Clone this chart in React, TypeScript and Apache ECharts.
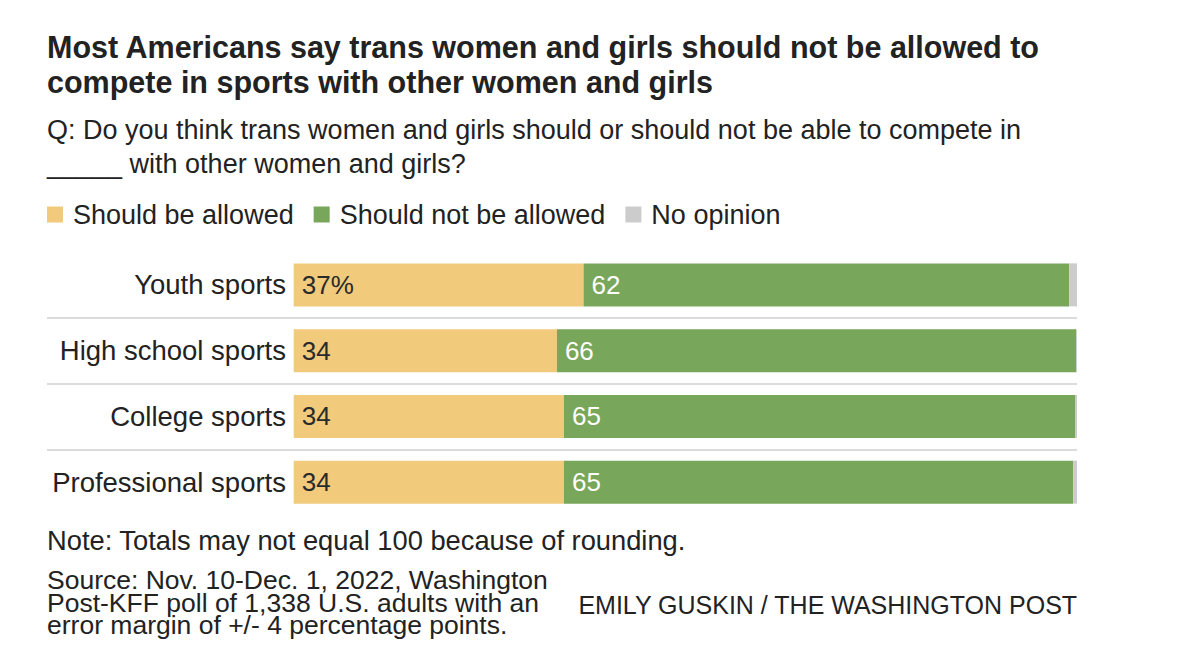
import React, { useEffect, useRef } from "react";
import * as echarts from "echarts";

const categories = ["Youth sports", "High school sports", "College sports", "Professional sports"];
const allowed = [37, 33.6, 34.5, 34.5];
const notAllowed = [62, 66.3, 65.3, 65.0];
const noOpinion = [1, 0.1, 0.2, 0.5];
const allowedLabels = ["37%", "34", "34", "34"];
const notAllowedLabels = ["62", "66", "65", "65"];
const seriesNames = ["Should be allowed", "Should not be allowed", "No opinion"];

const FONT = '"Liberation Sans", Arial, sans-serif';
const TEXT = "#222222";

export default function App() {
  const ref = useRef<HTMLDivElement>(null);
  useEffect(() => {
    if (!ref.current) return;
    const chart = echarts.init(ref.current, null, { renderer: "svg" });
    chart.setOption({
      animation: false,
      backgroundColor: "#ffffff",
      title: [
        {
          text: "Most Americans say trans women and girls should not be allowed to\ncompete in sports with other women and girls",
          left: 47,
          top: 29,
          padding: 0,
          textStyle: { fontFamily: FONT, fontSize: 30.5, fontWeight: "bold", color: TEXT, lineHeight: 35.5 },
        },
        {
          text: "Q: Do you think trans women and girls should or should not be able to compete in\n_____ with other women and girls?",
          left: 47,
          top: 113,
          padding: 0,
          textStyle: { fontFamily: FONT, fontSize: 27, fontWeight: "normal", color: TEXT, lineHeight: 34 },
        },
        {
          text: "Note: Totals may not equal 100 because of rounding.",
          left: 47,
          top: 525,
          padding: 0,
          textStyle: { fontFamily: FONT, fontSize: 27.3, fontWeight: "normal", color: TEXT, lineHeight: 30 },
        },
        {
          text: "Source: Nov. 10-Dec. 1, 2022, Washington\nPost-KFF poll of 1,338 U.S. adults with an\nerror margin of +/- 4 percentage points.",
          left: 47,
          top: 569,
          padding: 0,
          textStyle: { fontFamily: FONT, fontSize: 26.5, fontWeight: "normal", color: TEXT, lineHeight: 22.5 },
        },
        {
          text: "EMILY GUSKIN / THE WASHINGTON POST",
          right: 122,
          top: 592,
          padding: 0,
          textStyle: { fontFamily: FONT, fontSize: 25, fontWeight: "normal", color: TEXT, lineHeight: 25 },
        },
      ],
      legend: {
        data: seriesNames,
        left: 47,
        top: 201,
        padding: 0,
        icon: "rect",
        itemWidth: 16,
        itemHeight: 16,
        itemGap: 20,
        selectedMode: false,
        textStyle: { fontFamily: FONT, fontSize: 27, color: TEXT, padding: [0, 0, 0, 5] },
      },
      grid: { left: 47, right: 123, top: 252, height: 263, containLabel: false },
      xAxis: {
        type: "value",
        min: -31.5,
        max: 100,
        show: false,
      },
      yAxis: {
        type: "category",
        data: categories,
        inverse: true,
        axisLine: { show: false },
        axisTick: { show: false },
        axisLabel: {
          inside: true,
          margin: 239,
          align: "right",
          fontFamily: FONT,
          fontSize: 27.5,
          color: TEXT,
        },
        splitLine: {
          show: true,
          showMinLine: false,
          showMaxLine: false,
          lineStyle: { color: "#dcdcdc", width: 2 },
        },
      },
      series: [
        {
          name: seriesNames[0],
          type: "bar",
          stack: "total",
          barWidth: 43,
          data: allowed,
          itemStyle: { color: "#f1ca7c" },
          label: {
            show: true,
            position: "insideLeft",
            distance: 8,
            fontFamily: FONT,
            fontSize: 26,
            color: "#2a2a2a",
            formatter: (p: any) => allowedLabels[p.dataIndex],
          },
        },
        {
          name: seriesNames[1],
          type: "bar",
          stack: "total",
          barWidth: 43,
          data: notAllowed,
          itemStyle: { color: "#78a65a" },
          label: {
            show: true,
            position: "insideLeft",
            distance: 8,
            fontFamily: FONT,
            fontSize: 26,
            color: "#ffffff",
            formatter: (p: any) => notAllowedLabels[p.dataIndex],
          },
        },
        {
          name: seriesNames[2],
          type: "bar",
          stack: "total",
          barWidth: 43,
          data: noOpinion,
          itemStyle: { color: "#cccccc" },
          label: { show: false },
        },
      ],
    });
    return () => chart.dispose();
  }, []);
  return (
    <div
      ref={ref}
      style={{ position: "fixed", left: 0, top: 0, width: 1200, height: 658 }}
    />
  );
}
